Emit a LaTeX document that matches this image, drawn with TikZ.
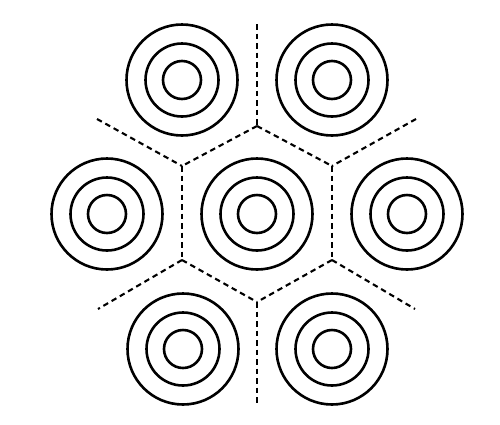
\documentclass[tikz,border=0pt]{standalone}
\begin{document}
\begin{tikzpicture}[x=1pt,y=-1pt,
  ring/.style={line width=2.6pt, black},
  wall/.style={line width=2.1pt, black, dash pattern=on 5.5pt off 4pt}]
\useasboundingbox (0,0) rectangle (500,424);
\fill[white] (0,0) rectangle (500,424);
% cells
\foreach \n/\x/\y in {tl/182/80, tr/332/80, ml/107/214, mc/257/214, mr/407/214, bl/183/349, br/332/349}{
  \coordinate (\n) at (\x,\y);
  \draw[ring] (\n) circle[radius=55.5];
  \draw[ring] (\n) circle[radius=36.5];
  \draw[ring] (\n) circle[radius=19];
}
% boundary vertices
\coordinate (top) at (257,24);
\coordinate (v1) at (257,126);
\coordinate (v2) at (182,166);
\coordinate (v3) at (332,166);
\coordinate (v4) at (182,260);
\coordinate (v5) at (332,260);
\coordinate (v6) at (257,302);
\coordinate (bot) at (257,405);
\coordinate (ul) at (97,119);
\coordinate (ur) at (416,119);
\coordinate (ll) at (98,309);
\coordinate (lr) at (415,309);
\draw[wall] (top) -- (v1);
\draw[wall] (v1) -- (v2);
\draw[wall] (v1) -- (v3);
\draw[wall] (ul) -- (v2);
\draw[wall] (ur) -- (v3);
\draw[wall] (v2) -- (v4);
\draw[wall] (v3) -- (v5);
\draw[wall] (v4) -- (v6);
\draw[wall] (v5) -- (v6);
\draw[wall] (v4) -- (ll);
\draw[wall] (v5) -- (lr);
\draw[wall] (v6) -- (bot);
\end{tikzpicture}
\end{document}
